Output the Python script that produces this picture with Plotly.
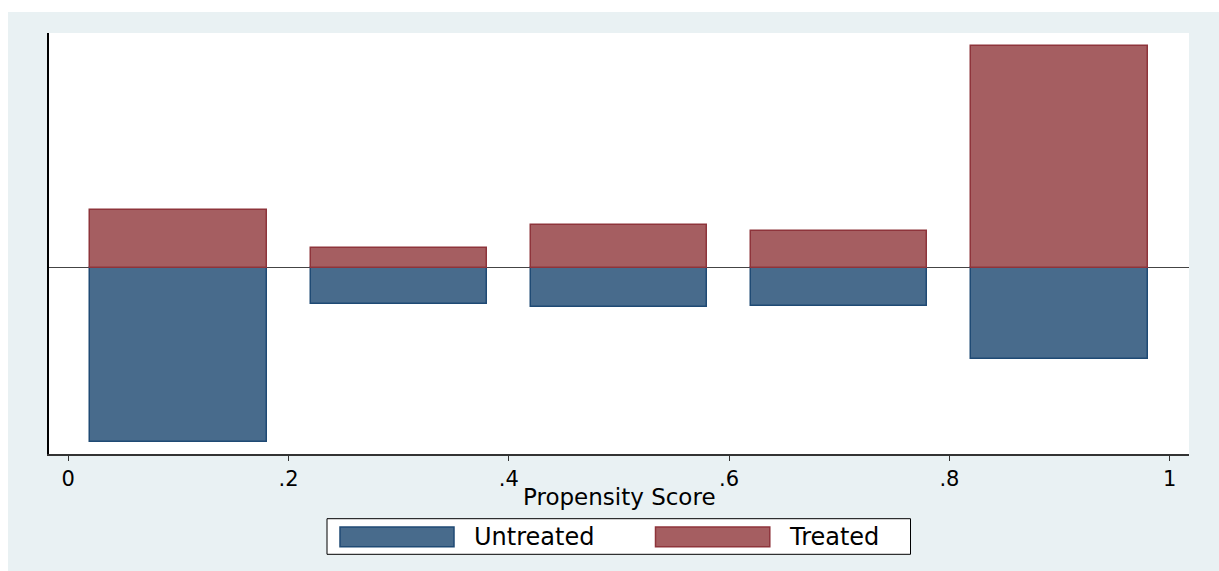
import plotly.graph_objects as go

# Propensity score bins (bin centres) and frequencies per group
bin_centres = [0.1, 0.3, 0.5, 0.7, 0.9]
bin_width = 0.16
treated = [25.8, 8.7, 19.3, 16.5, 100.0]
untreated = [78.5, 16.5, 17.8, 17.1, 41.4]
tick_vals = [0, 0.2, 0.4, 0.6, 0.8, 1]
tick_text = ["0", ".2", ".4", ".6", ".8", "1"]
legend_names = ["Untreated", "Treated"]
x_title = "Propensity Score"

W, H = 1219, 571
ML, MR, MT, MB = 49, 30, 33, 117
PW, PH = W - ML - MR, H - MT - MB

BG = "#E9F1F3"
BLUE_FILL, BLUE_LINE = "#486B8C", "#1F4A74"
RED_FILL, RED_LINE = "#A55E61", "#8E343B"
FONT = "DejaVu Sans"


def px_x(p):
    return (p - ML) / PW


def px_y(p):
    return (H - MB - p) / PH


fig = go.Figure()
fig.add_trace(go.Bar(
    x=bin_centres, y=[-v for v in untreated], width=bin_width,
    name=legend_names[0], marker=dict(color=BLUE_FILL, line=dict(color=BLUE_LINE, width=1.5)),
))
fig.add_trace(go.Bar(
    x=bin_centres, y=treated, width=bin_width,
    name=legend_names[1], marker=dict(color=RED_FILL, line=dict(color=RED_LINE, width=1.5)),
))

shapes = [
    # white strips around the light outer region
    dict(type="rect", xref="paper", yref="paper", x0=-0.2, x1=1.2,
         y0=px_y(12), y1=px_y(-5), fillcolor="white", line=dict(width=0), layer="below"),
    dict(type="rect", xref="paper", yref="paper", x0=px_x(-5), x1=px_x(8),
         y0=px_y(H + 5), y1=px_y(-5), fillcolor="white", line=dict(width=0), layer="below"),
    # legend box
    dict(type="rect", xref="paper", yref="paper", x0=px_x(327), x1=px_x(910.5),
         y0=px_y(554.3), y1=px_y(518.7), fillcolor="white", line=dict(color="black", width=1)),
    dict(type="rect", xref="paper", yref="paper", x0=px_x(340), x1=px_x(454),
         y0=px_y(546.7), y1=px_y(527), fillcolor=BLUE_FILL, line=dict(color=BLUE_LINE, width=1.5)),
    dict(type="rect", xref="paper", yref="paper", x0=px_x(655.5), x1=px_x(769.8),
         y0=px_y(546.7), y1=px_y(527), fillcolor=RED_FILL, line=dict(color=RED_LINE, width=1.5)),
]

annotations = [
    dict(text=x_title, xref="paper", yref="paper", x=0.5, y=px_y(497),
         xanchor="center", yanchor="middle", showarrow=False,
         font=dict(family=FONT, size=23, color="black")),
    dict(text=legend_names[0], xref="paper", yref="paper", x=px_x(472), y=px_y(537),
         xanchor="left", yanchor="middle", showarrow=False,
         font=dict(family=FONT, size=24, color="black")),
    dict(text=legend_names[1], xref="paper", yref="paper", x=px_x(787), y=px_y(537),
         xanchor="left", yanchor="middle", showarrow=False,
         font=dict(family=FONT, size=24, color="black")),
]

fig.update_layout(
    width=W, height=H,
    margin=dict(l=ML, r=MR, t=MT, b=MB),
    paper_bgcolor=BG, plot_bgcolor="white",
    barmode="relative", bargap=0, showlegend=False,
    shapes=shapes, annotations=annotations,
    font=dict(family=FONT, color="black"),
    xaxis=dict(
        range=[-0.0175, 1.0175], tickvals=tick_vals, ticktext=tick_text,
        ticks="outside", ticklen=5, tickwidth=1.2, tickcolor="#333",
        showline=True, linecolor="#333", linewidth=2, showgrid=False, zeroline=False,
        tickfont=dict(family=FONT, size=21, color="black"),
    ),
    yaxis=dict(
        range=[-84.06, 105.87], showticklabels=False, ticks="", showgrid=False,
        showline=True, linecolor="black", linewidth=2,
        zeroline=True, zerolinecolor="#444", zerolinewidth=1.2,
    ),
)

fig.write_html("out.html")
